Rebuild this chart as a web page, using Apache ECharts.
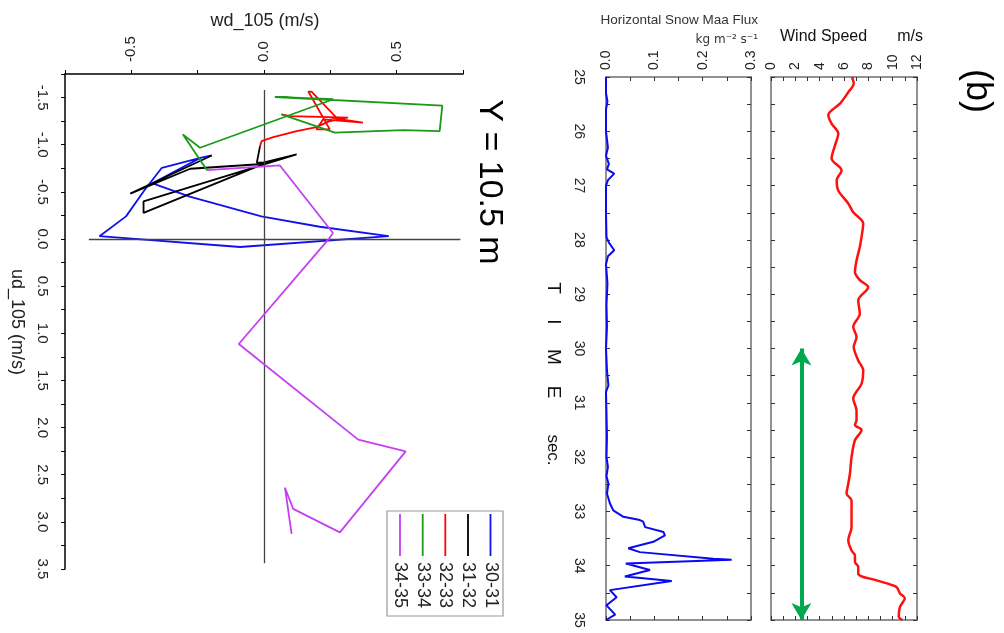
<!DOCTYPE html>
<html><head><meta charset="utf-8">
<script src="https://cdn.jsdelivr.net/npm/echarts@6/dist/echarts.min.js"></script>
<style>html,body{margin:0;padding:0;background:#fff}#c{width:1004px;height:633px}</style>
</head><body><div id="c"></div>
<script>
// ---- Hodograph data: [wd_105, ud_105] pairs (m/s) ----
const seriesNames = ['30-31', '31-32', '32-33', '33-34', '34-35'];
const seg3031 = [[-0.24,-0.86],[-0.42,-0.59],[-0.28,-0.45],[-0.01,-0.24],[0.21,-0.13],[0.47,-0.03],[-0.09,0.085],[-0.62,-0.03],[-0.52,-0.24],[-0.45,-0.52],[-0.385,-0.755],[-0.24,-0.86],[-0.197,-0.886]];
const seg3132 = [[-0.197,-0.886],[-0.504,-0.482],[-0.278,-0.745],[-0.034,-0.79],[0.123,-0.897],[-0.454,-0.40],[-0.454,-0.277],[0.01,-0.81],[-0.027,-0.81],[-0.015,-0.985]];
const seg3233 = [[-0.015,-0.985],[-0.009,-1.038],[0.035,-1.081],[0.123,-1.145],[0.198,-1.187],[0.242,-1.245],[0.311,-1.287],[0.248,-1.287],[0.373,-1.234],[0.223,-1.269],[0.198,-1.163],[0.248,-1.163],[0.167,-1.564],[0.179,-1.564],[0.273,-1.287],[0.317,-1.287],[0.098,-1.304],[0.066,-1.322]];
const seg3334 = [[0.066,-1.322],[0.267,-1.128],[0.524,-1.155],[0.662,-1.145],[0.672,-1.415],[0.041,-1.506],[0.261,-1.482],[-0.241,-0.968],[-0.306,-1.11],[-0.215,-0.73]];
const seg3435 = [[-0.215,-0.73],[0.06,-0.78],[0.26,-0.064],[0.242,0.007],[-0.095,1.114],[0.355,2.128],[0.534,2.252],[0.286,3.111],[0.11,2.862],[0.079,2.638],[0.104,3.128]];
const segColors = ['#1010f0', '#000000', '#ff0000', '#1a9a1a', '#c640f0'];

// ---- Time series ----
const windTime = [25.0,25.12,25.28,25.49,25.7,25.86,26.04,26.26,26.5,26.72,26.9,27.09,27.33,27.49,27.7,27.95,28.13,28.38,28.59,28.74,28.87,29.11,29.36,29.6,29.79,29.97,30.22,30.4,30.65,30.92,31.14,31.32,31.41,31.5,31.69,32.0,32.3,32.49,32.67,32.8,33.1,33.29,33.53,33.72,33.81,33.93,34.02,34.15,34.27,34.39,34.51,34.6,34.76,34.94,35.0];
const windVal  = [6.65,6.8,6.35,5.67,4.71,4.98,5.53,5.26,4.98,5.8,5.4,5.53,6.35,6.76,7.58,7.44,7.3,7.03,6.9,7.3,7.99,7.17,7.3,6.76,7.03,6.8,7.17,7.58,7.44,6.76,7.03,7.03,6.9,7.44,6.9,6.62,6.49,6.35,6.21,6.62,6.62,6.62,6.35,6.62,6.9,6.9,7.17,7.17,8.67,10.3,10.6,11.0,10.6,10.5,10.8];
const fluxTime = [25.0,25.3,25.45,25.6,26.0,26.3,26.45,26.6,26.7,26.78,26.9,27.0,27.5,27.95,28.05,28.19,28.3,28.45,28.8,29.2,29.6,30.0,30.4,30.68,30.8,31.2,31.63,32.0,32.18,32.35,32.49,32.67,32.85,32.98,33.1,33.16,33.19,33.29,33.38,33.44,33.56,33.68,33.75,33.87,33.89,33.96,34.08,34.2,34.28,34.45,34.58,34.73,34.9,35.0];
const fluxVal  = [0.0,0.0,0.003,0.0,0.0,0.004,0.0,0.006,0.002,0.017,0.004,0.0,0.0,0.001,0.006,0.017,0.004,0.0,0.003,0.001,0.002,0.0,0.002,0.005,0.0,0.001,0.002,0.001,0.004,0.001,0.005,0.002,0.008,0.015,0.036,0.07,0.077,0.081,0.119,0.122,0.098,0.046,0.07,0.222,0.26,0.041,0.091,0.039,0.136,0.008,0.022,0.001,0.019,0.0];

const FONT = 'Liberation Sans, Arial, sans-serif';
const isMult = (v, step) => Math.abs(v / step - Math.round(v / step)) < 1e-6;
const chart = echarts.init(document.getElementById('c'));

const frameLine = { show: true, onZero: false, lineStyle: { color: '#6e6e6e', width: 1.5 } };
const inTick = { show: true, inside: true, length: 4, lineStyle: { color: '#333', width: 1 } };
function timeAxis(grid, pos, showLabel) {
  return {
    type: 'value', gridIndex: grid, position: pos, inverse: true, min: 25, max: 35, interval: 0.5,
    axisLine: frameLine, axisTick: inTick, splitLine: { show: false },
    axisLabel: { show: showLabel, rotate: -90, margin: 20, fontSize: 14, color: '#222', fontFamily: FONT,
      formatter: v => isMult(v, 1) ? String(Math.round(v)) : '' }
  };
}
function valAxis(grid, pos, min, max, step, labStep, showLabel, dec) {
  return {
    type: 'value', gridIndex: grid, position: pos, min: min, max: max, interval: step,
    axisLine: frameLine, axisTick: inTick, splitLine: { show: false },
    axisLabel: { show: showLabel, rotate: -90, margin: 7, fontSize: 14, color: '#222', fontFamily: FONT,
      formatter: v => isMult(v, labStep) ? v.toFixed(dec) : '' }
  };
}

const segs = [seg3031, seg3132, seg3233, seg3334, seg3435];
const series = segs.map((d, i) => ({
  name: seriesNames[i], type: 'line', xAxisIndex: 0, yAxisIndex: 0, data: d,
  symbol: 'none', lineStyle: { color: segColors[i], width: 1.8 }, z: 3 + i,
  markLine: i === 0 ? {
    silent: true, symbol: 'none', label: { show: false }, animation: false,
    lineStyle: { color: '#444', width: 1.3, type: 'solid' },
    data: [[{ coord: [0, -1.58] }, { coord: [0, 3.44] }], [{ coord: [-0.66, 0] }, { coord: [0.74, 0] }]]
  } : undefined
}));
series.push({
  name: 'flux', type: 'line', xAxisIndex: 1, yAxisIndex: 1,
  data: fluxVal.map((v, i) => [v, fluxTime[i]]), symbol: 'none',
  lineStyle: { color: '#0a0af0', width: 2 }
});
series.push({
  name: 'wind', type: 'line', xAxisIndex: 3, yAxisIndex: 3, smooth: 0.3,
  data: windVal.map((v, i) => [v, windTime[i]]), symbol: 'none',
  lineStyle: { color: '#ff1010', width: 2.5 },
  markLine: {
    silent: true, symbol: ['arrow', 'arrow'], symbolSize: [15, 17], label: { show: false },
    lineStyle: { color: '#00a84f', width: 4, type: 'solid' },
    data: [[{ coord: [2.5, 30.0] }, { coord: [2.5, 35.0] }]]
  }
});

const legendX = [490.5, 468, 445.3, 422.7, 400];
const graphic = [
  { type: 'text', x: 265, y: 21, style: { text: 'wd_105 (m/s)', font: '18px ' + FONT, fill: '#222', align: 'center', verticalAlign: 'middle', textAlign: 'center', textVerticalAlign: 'middle' } },
  { type: 'text', x: 17, y: 322, rotation: -Math.PI / 2, style: { text: 'ud_105 (m/s)', font: '18px ' + FONT, fill: '#222', align: 'center', verticalAlign: 'middle', textAlign: 'center', textVerticalAlign: 'middle' } },
  { type: 'text', x: 489, y: 182, rotation: -Math.PI / 2, style: { text: 'Y = 10.5 m', font: '34px ' + FONT, fill: '#000', align: 'center', verticalAlign: 'middle', textAlign: 'center', textVerticalAlign: 'middle' } },
  { type: 'text', x: 758, y: 20, style: { text: 'Horizontal Snow Maa Flux', font: '13.5px ' + FONT, fill: '#333', align: 'right', verticalAlign: 'middle', textAlign: 'right', textVerticalAlign: 'middle' } },
  { type: 'text', x: 758, y: 40, style: { text: 'kg m\u207B\u00B2 s\u207B\u00B9', font: '12px DejaVu Sans, sans-serif', fill: '#333', align: 'right', verticalAlign: 'middle', textAlign: 'right', textVerticalAlign: 'middle' } },
  { type: 'text', x: 780, y: 37, style: { text: 'Wind Speed', font: '16px ' + FONT, fill: '#111', align: 'left', verticalAlign: 'middle', textAlign: 'left', textVerticalAlign: 'middle' } },
  { type: 'text', x: 923, y: 37, style: { text: 'm/s', font: '16px ' + FONT, fill: '#111', align: 'right', verticalAlign: 'middle', textAlign: 'right', textVerticalAlign: 'middle' } },
  { type: 'text', x: 977, y: 91, rotation: -Math.PI / 2, style: { text: '(b)', font: '36px ' + FONT, fill: '#000', align: 'center', verticalAlign: 'middle', textAlign: 'center', textVerticalAlign: 'middle' } },
  { type: 'rect', shape: { x: 387, y: 511, width: 116, height: 105 }, style: { fill: '#fff', stroke: '#999', lineWidth: 1.2 }, z: 10 }
];
[['T', 288], ['I', 322], ['M', 357], ['E', 392]].forEach(([t, y]) => graphic.push(
  { type: 'text', x: 553, y: y, rotation: -Math.PI / 2, style: { text: t, font: '19px ' + FONT, fill: '#111', align: 'center', verticalAlign: 'middle', textAlign: 'center', textVerticalAlign: 'middle' } }));
graphic.push({ type: 'text', x: 553, y: 450, rotation: -Math.PI / 2, style: { text: 'sec.', font: '17px ' + FONT, fill: '#111', align: 'center', verticalAlign: 'middle', textAlign: 'center', textVerticalAlign: 'middle' } });
seriesNames.forEach((n, i) => {
  graphic.push({ type: 'line', shape: { x1: legendX[i], y1: 514, x2: legendX[i], y2: 556 }, style: { stroke: segColors[i], lineWidth: 1.8 }, z: 11 });
  graphic.push({ type: 'text', x: legendX[i], y: 562, rotation: -Math.PI / 2, z: 11, style: { text: n, font: '18px ' + FONT, fill: '#222', align: 'left', verticalAlign: 'middle', textAlign: 'left', textVerticalAlign: 'middle' } });
});

chart.setOption({
  animation: false,
  backgroundColor: '#fff',
  grid: [
    { left: 65, top: 74, width: 398, height: 495 },
    { left: 606, top: 77, width: 145, height: 543 },
    { left: 771, top: 77, width: 146, height: 543 }
  ],
  xAxis: [
    { type: 'value', gridIndex: 0, position: 'top', min: -0.75, max: 0.75, interval: 0.25,
      axisLine: { show: true, onZero: false, lineStyle: { color: '#000', width: 1.5 } },
      axisTick: { show: true, inside: false, length: 4, lineStyle: { color: '#000' } }, splitLine: { show: false },
      axisLabel: { rotate: -90, margin: 12, fontSize: 15, color: '#222', fontFamily: FONT, formatter: v => isMult(v, 0.5) ? v.toFixed(1) : '' } },
    valAxis(1, 'top', 0, 0.3, 0.05, 0.1, true, 1),
    valAxis(1, 'bottom', 0, 0.3, 0.05, 0.1, false, 1),
    valAxis(2, 'top', 0, 12, 1, 2, true, 0),
    valAxis(2, 'bottom', 0, 12, 1, 2, false, 0)
  ],
  yAxis: [
    { type: 'value', gridIndex: 0, position: 'left', inverse: true, min: -1.75, max: 3.5, interval: 0.25,
      axisLine: { show: true, onZero: false, lineStyle: { color: '#000', width: 1.5 } },
      axisTick: { show: true, inside: false, length: 4, lineStyle: { color: '#000' } }, splitLine: { show: false },
      axisLabel: { rotate: -90, margin: 15, fontSize: 15, color: '#222', fontFamily: FONT, formatter: v => isMult(v, 0.5) ? v.toFixed(1) : '' } },
    timeAxis(1, 'left', true),
    timeAxis(1, 'right', false),
    timeAxis(2, 'left', false),
    timeAxis(2, 'right', false)
  ],
  series: series,
  graphic: graphic
});
</script></body></html>
